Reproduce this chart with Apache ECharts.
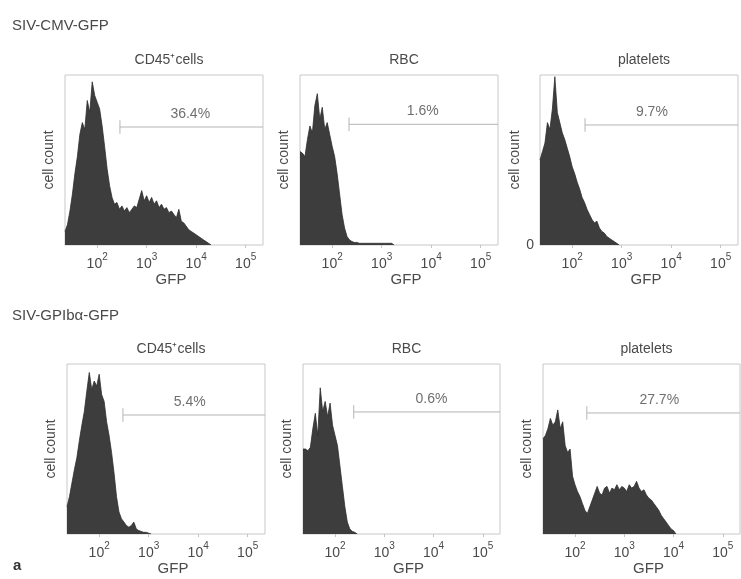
<!DOCTYPE html>
<html>
<head>
<meta charset="utf-8">
<title>GFP histograms</title>
<script src="https://cdn.jsdelivr.net/npm/echarts@6/dist/echarts.min.js"></script>
<style>
  html, body { margin: 0; padding: 0; background: #fff; }
  #chart { width: 741px; height: 579px; }
</style>
</head>
<body>
<div id="chart"></div>
<script>
// ── data ──
// bin centres, log10(GFP)
const binX = [1.35, 1.40, 1.45, 1.50, 1.55, 1.60, 1.65, 1.70, 1.75, 1.80,
              1.85, 1.90, 1.95, 2.00, 2.05, 2.10, 2.15, 2.20, 2.25, 2.30,
              2.35, 2.40, 2.45, 2.50, 2.55, 2.60, 2.65, 2.70, 2.75, 2.80,
              2.85, 2.90, 2.95, 3.00, 3.05, 3.10, 3.15, 3.20, 3.25, 3.30,
              3.35, 3.40, 3.45, 3.50, 3.55, 3.60, 3.65, 3.70, 3.75, 3.80,
              3.85, 3.90, 3.95, 4.00, 4.05, 4.10, 4.15, 4.20, 4.25, 4.30];

// cell counts (% of panel height)
const cmvCd45 = [8, 12, 20, 30, 42, 52, 65, 72, 68, 85, 78, 96, 88, 84, 80, 70, 58, 45, 35, 28,
                 24, 25, 21, 23, 20, 22, 19, 21, 23, 22, 27, 32, 26, 29, 25, 28, 24, 26, 22, 24,
                 21, 22, 19, 20, 18, 16, 21, 14, 13, 11, 9, 8, 7, 6, 5, 4, 3, 2, 1, 0];
const cmvRbc = [55, 54, 52, 62, 70, 66, 82, 89, 74, 81, 68, 72, 65, 58, 52, 42, 30, 18, 10, 5,
                3, 2, 1.5, 1.5, 1, 1, 1, 1, 1, 1, 1, 1, 1, 1, 1, 1, 1, 1, 0];
const cmvPlt = [50, 55, 60, 72, 68, 80, 99, 78, 72, 66, 62, 57, 52, 46, 42, 37, 33, 28, 25, 21,
                18, 15, 13, 14, 10, 8, 7, 5, 4, 3, 2, 1, 0];
const gpCd45 = [16, 22, 30, 38, 45, 55, 64, 72, 84, 95, 85, 90, 87, 94, 82, 78, 66, 58, 48, 36,
                22, 13, 9, 7, 5, 4, 5, 7, 3, 2, 1.5, 1, 1, 0.5, 0];
const gpRbc = [50, 50, 49, 51, 62, 71, 58, 86, 72, 78, 69, 77, 64, 58, 52, 40, 28, 16, 7, 3,
               1.5, 1, 0];
const gpPlt = [56, 58, 62, 68, 64, 66, 73, 62, 66, 52, 48, 50, 34, 29, 25, 22, 18, 14, 12, 16,
               20, 24, 28, 24, 23, 27, 28, 24, 27, 26, 29, 26, 28, 27, 25, 29, 27, 28, 31, 27,
               25, 26, 23, 21, 20, 18, 16, 14, 11, 9, 7, 5, 3, 2, 0];

const panelCounts = [cmvCd45, cmvRbc, cmvPlt, gpCd45, gpRbc, gpPlt];
const panelTitles = ['CD45⁺cells', 'RBC', 'platelets', 'CD45⁺cells', 'RBC', 'platelets'];
const rowLabels   = ['SIV-CMV-GFP', 'SIV-GPIbα-GFP'];
const gateStart   = [2.46, 2.34, 2.26, 2.48, 2.38, 2.24];
const gateLevel   = [69.4, 71, 70.6, 70, 71.8, 71.2];
const gateText    = ['36.4%', '1.6%', '9.7%', '5.4%', '0.6%', '27.7%'];
const gateTextX   = [3.88, 3.83, 3.61, 3.83, 3.96, 3.71];
const decades     = [2, 3, 4, 5];

// ── layout ──
const X_MIN = 1.35, X_MAX = 5.35;
const gridPos = [
  { left: 65,  top: 75,  width: 198, height: 170 },
  { left: 300, top: 75,  width: 198, height: 170 },
  { left: 540, top: 75,  width: 198, height: 170 },
  { left: 67,  top: 364, width: 198, height: 170 },
  { left: 303, top: 364, width: 197, height: 170 },
  { left: 543, top: 364, width: 197, height: 170 },
];
const FONT = '"Liberation Sans", Arial, sans-serif';
const TXT = '#4a4a4a';
const FRAME = '#c8c8c8';

const grids = [], xAxes = [], yAxes = [], series = [], titles = [];

gridPos.forEach((g, i) => {
  grids.push({ ...g, show: true, borderColor: FRAME, borderWidth: 1, backgroundColor: 'transparent' });

  xAxes.push({
    gridIndex: i, type: 'value', min: X_MIN, max: X_MAX,
    name: 'GFP', nameLocation: 'middle', nameGap: 26,
    nameTextStyle: { fontFamily: FONT, fontSize: 15, color: TXT, padding: [0, 0, 0, 14] },
    axisLine: { show: false },
    splitLine: { show: false },
    axisTick: { show: true, customValues: decades, length: 3, lineStyle: { color: '#c4c4c4' } },
    axisLabel: {
      show: true, customValues: decades, margin: 7,
      formatter: v => '{b|10}{s|' + v + '}',
      rich: {
        b: { fontFamily: FONT, fontSize: 14, color: TXT, lineHeight: 19, verticalAlign: 'bottom' },
        s: { fontFamily: FONT, fontSize: 10, color: TXT, lineHeight: 19, verticalAlign: 'top', padding: [0, 0, 6, 0] },
      },
    },
  });

  yAxes.push({
    gridIndex: i, type: 'value', min: 0, max: 100,
    name: 'cell count', nameLocation: 'middle', nameGap: 9,
    nameTextStyle: { fontFamily: FONT, fontSize: 14, color: TXT },
    axisLine: { show: false }, axisTick: { show: false }, splitLine: { show: false },
    axisLabel: {
      show: i === 2, customValues: [0], margin: 6,
      fontFamily: FONT, fontSize: 14, color: TXT,
    },
  });

  titles.push({
    text: panelTitles[i], left: g.left + g.width / 2, top: g.top - 27, textAlign: 'center',
    textStyle: { fontFamily: FONT, fontSize: 14, fontWeight: 'normal', color: TXT },
  });

  const counts = panelCounts[i];
  series.push({
    type: 'line', xAxisIndex: i, yAxisIndex: i,
    data: counts.map((c, j) => [binX[j], c]),
    symbol: 'none', silent: true,
    lineStyle: { color: '#2e2e2e', width: 0.8 },
    areaStyle: { color: '#3d3d3d', opacity: 1 },
    z: 3,
  });
  // gate line
  series.push({
    type: 'line', xAxisIndex: i, yAxisIndex: i,
    data: [[gateStart[i], gateLevel[i]], [X_MAX, gateLevel[i]]],
    symbol: 'none', silent: true,
    lineStyle: { color: '#b5b5b5', width: 1 },
    z: 2,
  });
  // gate start tick
  series.push({
    type: 'line', xAxisIndex: i, yAxisIndex: i,
    data: [[gateStart[i], gateLevel[i] - 4], [gateStart[i], gateLevel[i] + 4]],
    symbol: 'none', silent: true,
    lineStyle: { color: '#b5b5b5', width: 1 },
    z: 2,
  });
  // gate percentage
  series.push({
    type: 'scatter', xAxisIndex: i, yAxisIndex: i,
    data: [[gateTextX[i], gateLevel[i]]],
    symbolSize: 0, silent: true,
    label: {
      show: true, position: 'top', distance: 6,
      formatter: gateText[i],
      fontFamily: FONT, fontSize: 14, color: TXT,
    },
  });
});

titles.push({
  text: rowLabels[0], left: 7, top: 13,
  textStyle: { fontFamily: FONT, fontSize: 15, fontWeight: 'normal', color: TXT },
});
titles.push({
  text: rowLabels[1], left: 7, top: 303,
  textStyle: { fontFamily: FONT, fontSize: 15, fontWeight: 'normal', color: TXT },
});
titles.push({
  text: 'a', left: 8, top: 553,
  textStyle: { fontFamily: FONT, fontSize: 15, fontWeight: 'bold', color: '#333' },
});

const chart = echarts.init(document.getElementById('chart'), null, { renderer: 'canvas' });
chart.setOption({
  animation: false,
  backgroundColor: '#fff',
  title: titles,
  grid: grids,
  xAxis: xAxes,
  yAxis: yAxes,
  series,
});
</script>
</body>
</html>
